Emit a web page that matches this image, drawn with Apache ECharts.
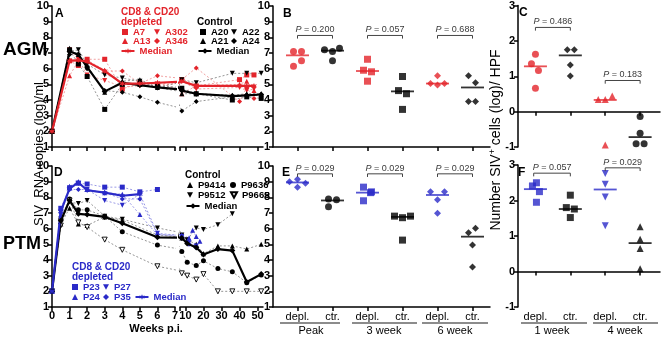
<!DOCTYPE html>
<html>
<head>
<meta charset="utf-8">
<script src="https://cdn.jsdelivr.net/npm/echarts@6/dist/echarts.min.js"></script>
<style>
  html, body { margin: 0; padding: 0; background: #fff; }
  #chart { width: 662px; height: 338px; }
</style>
</head>
<body>
<div id="chart"></div>
<script>
// ---------- data ----------
// A: AGM plasma viral load, log copies/ml
const agmDeplWeeks = [0, 1, 1.5, 2, 3, 4, 5, 6, 8, 16, 40, 44, 48];
const agmA7   = [2, 6.5, 6.2, 6.6, 6.6, 4.7, 5.1, 5.0, 5.3, 4.9, 5.3, 5.6, 5.6];
const agmA13  = [2, 5.55, 6.5, 6.55, 5.9, 5.0, 5.0, 5.1, 4.4, 4.9, 5.0, 5.2, 4.6];
const agmA302 = [2, 7.2, 6.6, 5.6, 5.25, 4.85, 4.9, 4.9, 5.2, 4.7, 4.8, 4.6, 4.7];
const agmA346 = [2, 6.5, 6.5, 6.4, 5.85, 5.85, 5.05, 5.55, 5.3, 6.05, 3.9, 4.8, 4.1];
const agmDeplMedian = [2, 6.5, 6.55, 6.45, 5.85, 5.05, 5.05, 5.1, 5.2, 4.9, 4.9, 4.9, 4.9];

const agmCtrWeeks = [0, 1, 1.5, 2, 3, 4, 5, 6, 8, 16, 36, 44, 52];
const agmA20 = [2, 7.2, 6.3, 5.5, 3.4, 5.0, 5.0, 4.9, 4.75, 4.4, 4.0, 4.2, 4.1];
const agmA21 = [2, 7.3, 6.9, 6.2, 4.5, 5.2, 5.3, 4.8, 4.4, 4.4, 4.3, 4.4, 4.4];
const agmA22 = [2, 7.1, 7.2, 6.3, 5.6, 5.4, 5.2, 4.8, 5.3, 5.1, 5.7, 5.7, 5.7];
const agmA24 = [2, 6.9, 6.9, 6.0, 4.6, 4.5, 4.2, 3.85, 3.3, 3.9, 4.2, 4.3, 4.3];
const agmCtrMedian = [2, 7.1, 6.9, 6.1, 4.55, 5.1, 4.95, 4.8, 4.6, 4.4, 4.25, 4.3, 4.35];

// D: PTM plasma viral load
const ptmDeplWeeks = [0, 0.5, 1, 1.5, 2, 3, 4, 5, 6, 8, 12, 14, 16, 18];
const ptmP23 = [2, 7.3, 8.6, 8.9, 8.85, 8.65, 8.65, 8.35, 8.5, null, null, null, null, null];
const ptmP27 = [2, 7.1, 8.6, 8.9, 8.5, 7.8, 7.5, 8.2, 5.7, 5.5, 5.1, null, 4.9, null];
const ptmP24 = [2, 6.9, 8.7, 9.0, 8.5, 8.3, 8.2, 6.9, 5.6, 5.6, 5.4, 5.9, 5.5, 5.2];
const ptmP35 = [2, 7.0, 8.5, 8.5, 8.5, 8.3, 7.9, 7.9, 5.65, 5.4, 5.0, null, 4.8, null];
const ptmDeplMedian = [2, 7.1, 8.55, 8.95, 8.45, 8.3, 8.1, 8.2, null, null, null, null, null, null];

const ptmCtrWeeks = [0, 0.5, 1, 1.5, 2, 3, 4, 6, 8, 11, 16, 20, 28, 36, 44, 52];
const ptmP9414 = [2, 6.3, 7.3, 6.3, 6.2, 6.75, 6.55, 5.6, 5.4, 5.3, 5.0, 4.4, 4.9, 4.9, 4.7, 5.0];
const ptmP9512 = [2, 6.6, 7.7, 7.6, 7.8, 6.8, 6.6, 6.05, 5.6, 5.3, 6.05, 5.95, 6.25, 6.95, null, null];
const ptmP9636 = [2, 6.6, 7.9, 7.2, 7.2, 6.8, 5.8, 4.95, 4.55, 3.85, 3.65, 3.95, 3.45, 3.25, 2.55, 3.05];
const ptmP9665 = [2, 6.2, 7.8, 6.4, 6.1, 5.3, 4.65, 3.6, 3.15, 3.0, 2.75, 3.1, 2.0, 2.0, 2.0, 2.0];
const ptmCtrMedian = [2, 6.5, 7.8, 6.95, 6.9, 6.75, 6.35, 5.45, 5.4, 5.05, 4.8, 4.35, 4.7, 4.6, 2.6, 3.1];

// B / E: viral load at peak, 3 and 6 weeks
const groupLabels = ['depl.', 'ctr.', 'depl.', 'ctr.', 'depl.', 'ctr.'];
const agmPeakDepl = [7.1, 7.1, 6.5, 6.15];
const agmPeakCtr  = [7.2, 7.1, 7.3, 6.5];
const agm3wDepl   = [6.6, 5.9, 5.8, 5.2];
const agm3wCtr    = [5.5, 4.6, 4.4, 3.4];
const agm6wDepl   = [5.55, 5.05, 4.95, 5.05];
const agm6wCtr    = [5.55, 5.1, 3.9, 3.9];
const agmMedians  = [6.85, 7.15, 5.85, 4.55, 5.05, 4.8];
const agmP = ['0.200', '0.057', '0.688'];

const ptmPeakDepl = [9.0, 9.15, 8.9, 8.65];
const ptmPeakCtr  = [7.9, 7.85, 7.4];
const ptm3wDepl   = [8.65, 8.35, 7.78, 8.3];
const ptm3wCtr    = [6.8, 6.7, 6.8, 5.27];
const ptm6wDepl   = [8.35, 8.35, 7.85, 6.98];
const ptm6wCtr    = [5.74, 6.02, 4.95, 3.56];
const ptmMedians  = [8.95, 7.8, 8.3, 6.75, 8.15, 5.49];
const ptmP = ['0.029', '0.029', '0.029'];

// C / F: SIV+ cells (log) per HPF, 1 and 4 weeks
const cellLabels = ['depl.', 'ctr.', 'depl.', 'ctr.'];
const agmCells1wDepl = [1.62, 1.35, 1.16, 0.66];
const agmCells1wCtr  = [1.75, 1.75, 1.32, 1.01];
const agmCells4wDepl = [0.34, 0.34, 0.44, -0.94];
const agmCells4wCtr  = [-0.14, -0.61, -0.91, -0.91];
const agmCellMedians = [1.28, 1.59, 0.33, -0.72];
const agmCellP = ['0.486', '0.183'];

const ptmCells1wDepl = [2.41, 2.5, 2.25, 1.95];
const ptmCells1wCtr  = [2.15, 1.8, 1.76, 1.52];
const ptmCells4wDepl = [2.76, 2.46, 2.1, 1.29];
const ptmCells4wCtr  = [1.26, 0.91, 0.65, 0.08];
const ptmCellMedians = [2.32, 1.76, 2.31, 0.8];
const ptmCellP = ['0.057', '0.029'];

// ---------- style ----------
const FONT = 'Liberation Sans';
const RED = '#e3242b', RED_LINE = '#ee8a8a';
const BLUE = '#2a2ac8', BLUE_LINE = '#8080e0';
const BLACK = '#000', GREY_LINE = '#7a7a7a';
const DOWN = 'path://M0,0L10,0L5,9Z';
const STAR = 'path://M5,0L6.2,3.2L9.3,2.2L7.4,5L9.3,7.8L6.2,6.8L5,10L3.8,6.8L0.7,7.8L2.6,5L0.7,2.2L3.8,3.2Z';

const chart = echarts.init(document.getElementById('chart'));

const grid = [
  { left: 52, top: 6, width: 123, height: 141 },   // A weeks 0-7
  { left: 180, top: 6, width: 83, height: 141 },   // A weeks 7-53
  { left: 52, top: 166, width: 123, height: 141 }, // D weeks 0-7
  { left: 180, top: 166, width: 83, height: 141 }, // D weeks 7-53
  { left: 273, top: 6, width: 217, height: 141 },  // B
  { left: 518, top: 5, width: 142, height: 142 },  // C
  { left: 273, top: 166, width: 217, height: 141 },// E
  { left: 518, top: 165, width: 142, height: 142 } // F
];

const axLine = { lineStyle: { color: BLACK, width: 1.5 } };
const axTick = { length: 4, lineStyle: { color: BLACK, width: 1.5 } };
const axLab = { color: BLACK, fontSize: 11, fontWeight: 'bold', fontFamily: FONT, margin: 3 };

function xAx(gi, min, max, ticks, showLabels, labels) {
  const o = {
    type: 'value', gridIndex: gi, min, max, splitLine: { show: false },
    axisLine: axLine,
    axisTick: Object.assign({ customValues: ticks }, axTick),
    axisLabel: Object.assign({ show: showLabels, customValues: ticks.filter(t => t >= (labels === 'weeks2' ? 10 : -99)) }, axLab)
  };
  if (Array.isArray(labels)) {
    o.axisLabel.formatter = v => labels[Math.round(v) - 1] || '';
    o.axisLabel.fontWeight = 'normal';
    o.axisLabel.margin = 4;
  }
  return o;
}
function yAx(gi, min, max, show) {
  return {
    type: 'value', gridIndex: gi, min, max, interval: 1, show,
    splitLine: { show: false }, axisLine: axLine, axisTick: axTick, axisLabel: axLab
  };
}

const xAxis = [
  xAx(0, 0, 7, [0, 1, 2, 3, 4, 5, 6, 7], false),
  xAx(1, 7, 53, [7, 10, 20, 30, 40, 50], false, 'weeks2'),
  xAx(2, 0, 7, [0, 1, 2, 3, 4, 5, 6, 7], true),
  xAx(3, 7, 53, [7, 10, 20, 30, 40, 50], true, 'weeks2'),
  xAx(4, 0.3, 6.5, [1, 2, 3, 4, 5, 6], false),
  xAx(5, 0.5, 4.57, [1, 2, 3, 4], false),
  xAx(6, 0.3, 6.5, [1, 2, 3, 4, 5, 6], true, groupLabels),
  xAx(7, 0.5, 4.57, [1, 2, 3, 4], true, cellLabels)
];
const yAxis = [
  yAx(0, 1, 10, true), yAx(1, 1, 10, false),
  yAx(2, 1, 10, true), yAx(3, 1, 10, false),
  yAx(4, 1, 10, true), yAx(5, -1, 3, true),
  yAx(6, 1, 10, true), yAx(7, -1, 3, true)
];

// time course drawn into both halves of the broken axis
function course(name, gi, weeks, vals, color, lineColor, symbol, isMedian, hollow) {
  const data = weeks.map((w, i) => [w, vals[i]]).filter(d => d[1] != null);
  return [gi, gi + 1].map(g => ({
    name, type: 'line', xAxisIndex: g, yAxisIndex: g, data, clip: true, connectNulls: true,
    symbol, symbolSize: isMedian ? 6 : 5,
    itemStyle: hollow ? { color: '#fff', borderColor: color, borderWidth: 0.9 } : { color },
    lineStyle: isMedian ? { color, width: 2.2 } : { color: lineColor, width: 0.8, type: [2, 2] },
    z: isMedian ? 5 : 3, silent: true
  }));
}

function dots(gi, pos, vals, jitter, symbol, color) {
  return {
    type: 'scatter', xAxisIndex: gi, yAxisIndex: gi, symbol, symbolSize: 7, silent: true,
    itemStyle: { color },
    data: vals.map((v, i) => ({ value: [pos, v], symbolOffset: [jitter[i] || 0, 0] }))
  };
}
function medianBars(gi, vals, colors) {
  return {
    type: 'scatter', xAxisIndex: gi, yAxisIndex: gi, symbol: 'rect', symbolSize: [23, 1.8], silent: true, z: 4,
    data: vals.map((v, i) => ({ value: [i + 1, v], itemStyle: { color: colors[i % colors.length] } }))
  };
}
function bracket(gi, x1, x2, y, drop, p) {
  return [{
    type: 'line', xAxisIndex: gi, yAxisIndex: gi, symbol: 'none', silent: true, clip: false,
    lineStyle: { color: '#444', width: 1 },
    data: [[x1, y - drop], [x1, y], [x2, y], [x2, y - drop]]
  }, {
    type: 'scatter', xAxisIndex: gi, yAxisIndex: gi, symbolSize: 0, silent: true, clip: false,
    data: [[(x1 + x2) / 2, y]],
    label: {
      show: true, position: 'top', distance: 1, color: BLACK, fontSize: 9, fontFamily: FONT,
      formatter: '{i|P} = ' + p, rich: { i: { fontStyle: 'italic', fontSize: 9, fontFamily: FONT } }
    }
  }];
}

const series = [].concat(
  course('A7', 0, agmDeplWeeks, agmA7, RED, RED_LINE, 'rect'),
  course('A13', 0, agmDeplWeeks, agmA13, RED, RED_LINE, 'triangle'),
  course('A302', 0, agmDeplWeeks, agmA302, RED, RED_LINE, DOWN),
  course('A346', 0, agmDeplWeeks, agmA346, RED, RED_LINE, 'diamond'),
  course('A20', 0, agmCtrWeeks, agmA20, BLACK, GREY_LINE, 'rect'),
  course('A21', 0, agmCtrWeeks, agmA21, BLACK, GREY_LINE, 'triangle'),
  course('A22', 0, agmCtrWeeks, agmA22, BLACK, GREY_LINE, DOWN),
  course('A24', 0, agmCtrWeeks, agmA24, BLACK, GREY_LINE, 'diamond'),
  course('agmCtrMedian', 0, agmCtrWeeks, agmCtrMedian, BLACK, BLACK, 'diamond', true),
  course('agmDeplMedian', 0, agmDeplWeeks, agmDeplMedian, RED, RED, STAR, true),

  course('P9414', 2, ptmCtrWeeks, ptmP9414, BLACK, GREY_LINE, 'triangle'),
  course('P9512', 2, ptmCtrWeeks, ptmP9512, BLACK, GREY_LINE, DOWN),
  course('P9636', 2, ptmCtrWeeks, ptmP9636, BLACK, GREY_LINE, 'circle'),
  course('P9665', 2, ptmCtrWeeks, ptmP9665, BLACK, GREY_LINE, DOWN, false, true),
  course('P23', 2, ptmDeplWeeks, ptmP23, BLUE, BLUE_LINE, 'rect'),
  course('P27', 2, ptmDeplWeeks, ptmP27, BLUE, BLUE_LINE, DOWN),
  course('P24', 2, ptmDeplWeeks, ptmP24, BLUE, BLUE_LINE, 'triangle'),
  course('P35', 2, ptmDeplWeeks, ptmP35, BLUE, BLUE_LINE, 'diamond'),
  course('ptmCtrMedian', 2, ptmCtrWeeks, ptmCtrMedian, BLACK, BLACK, 'diamond', true),
  course('ptmDeplMedian', 2, ptmDeplWeeks, ptmDeplMedian, BLUE, BLUE, STAR, true),

  // B
  dots(4, 1, agmPeakDepl, [-4, 4, 4, -4], 'circle', RED),
  dots(4, 2, agmPeakCtr, [-8, 0, 7, 0], 'circle', BLACK),
  dots(4, 3, agm3wDepl, [0, -4, 4, 0], 'rect', RED),
  dots(4, 4, agm3wCtr, [0, -4, 4, 0], 'rect', BLACK),
  dots(4, 5, agm6wDepl, [0, -7, 0, 7], 'diamond', RED),
  dots(4, 6, agm6wCtr, [-4, 3, -4, 3], 'diamond', BLACK),
  medianBars(4, agmMedians, [RED, BLACK]),
  bracket(4, 1, 2, 8.12, 0.2, agmP[0]),
  bracket(4, 3, 4, 8.12, 0.2, agmP[1]),
  bracket(4, 5, 6, 8.12, 0.2, agmP[2]),
  // C
  dots(5, 1, agmCells1wDepl, [0, -4, 3, 0], 'circle', RED),
  dots(5, 2, agmCells1wCtr, [-3, 4, 0, 0], 'diamond', BLACK),
  dots(5, 3, agmCells4wDepl, [-7, 0, 7, 0], 'triangle', RED),
  dots(5, 4, agmCells4wCtr, [0, 0, -4, 4], 'circle', BLACK),
  medianBars(5, agmCellMedians, [RED, BLACK]),
  bracket(5, 1, 2, 2.38, 0.09, agmCellP[0]),
  bracket(5, 3, 4, 0.88, 0.09, agmCellP[1]),
  // E
  dots(6, 1, ptmPeakDepl, [-8, 0, 8, 0], 'diamond', BLUE),
  dots(6, 2, ptmPeakCtr, [-4, 4, -4], 'circle', BLACK),
  dots(6, 3, ptm3wDepl, [-4, 4, -4, 3], 'rect', BLUE),
  dots(6, 4, ptm3wCtr, [-8, 0, 8, 0], 'rect', BLACK),
  dots(6, 5, ptm6wDepl, [-7, 7, 0, 0], 'diamond', BLUE),
  dots(6, 6, ptm6wCtr, [-4, 3, 0, 0], 'diamond', BLACK),
  medianBars(6, ptmMedians, [BLUE, BLACK]),
  bracket(6, 1, 2, 9.5, 0.2, ptmP[0]),
  bracket(6, 3, 4, 9.5, 0.2, ptmP[1]),
  bracket(6, 5, 6, 9.5, 0.2, ptmP[2]),
  // F
  dots(7, 1, ptmCells1wDepl, [-3, 1, 4, 1], 'rect', BLUE),
  dots(7, 2, ptmCells1wCtr, [0, -4, 4, 0], 'rect', BLACK),
  dots(7, 3, ptmCells4wDepl, [0, 0, 0, 0], DOWN, BLUE),
  dots(7, 4, ptmCells4wCtr, [0, 0, 0, 0], 'triangle', BLACK),
  medianBars(7, ptmCellMedians, [BLUE, BLACK]),
  bracket(7, 0.95, 2, 2.77, 0.09, ptmCellP[0]),
  bracket(7, 3, 4, 2.92, 0.09, ptmCellP[1])
);

// one legend component per entry so they can sit exactly like the figure
function leg(name, cx, cy, color, icon) {
  const w = icon ? 6 : 13, h = icon ? 6 : 7;
  const o = {
    data: [icon ? { name, icon } : { name }], left: cx - w / 2, top: cy - 5, padding: 0,
    itemWidth: w, itemHeight: h, selectedMode: false,
    textStyle: { color, fontSize: 9.5, fontWeight: 'bold', fontFamily: FONT, lineHeight: 10 }
  };
  if (!icon) o.formatter = 'Median';
  return o;
}
const legend = [
  leg('A7', 125, 32, RED, 'rect'), leg('A302', 157, 32, RED, DOWN),
  leg('A13', 125, 41, RED, 'triangle'), leg('A346', 157, 41, RED, 'diamond'),
  leg('agmDeplMedian', 127, 51, RED),
  leg('A20', 203, 32, BLACK, 'rect'), leg('A22', 234, 32, BLACK, DOWN),
  leg('A21', 203, 41, BLACK, 'triangle'), leg('A24', 234, 41, BLACK, 'diamond'),
  leg('agmCtrMedian', 204, 51, BLACK),
  leg('P9414', 190, 185, BLACK, 'triangle'), leg('P9636', 233, 185, BLACK, 'circle'),
  leg('P9512', 190, 195, BLACK, DOWN), leg('P9665', 233, 195, BLACK, DOWN),
  leg('ptmCtrMedian', 192, 206, BLACK),
  leg('P23', 75, 287, BLUE, 'rect'), leg('P27', 106, 287, BLUE, DOWN),
  leg('P24', 75, 297, BLUE, 'triangle'), leg('P35', 106, 297, BLUE, 'diamond'),
  leg('ptmDeplMedian', 141, 297, BLUE)
];

function txt(text, x, y, size, weight, color, align) {
  return {
    type: 'text', x, y, silent: true,
    style: { text, fontSize: size, fontWeight: weight, fontFamily: FONT, fill: color, align: align || 'left', verticalAlign: 'middle' }
  };
}
function bar(x1, x2, y) {
  return { type: 'rect', silent: true, shape: { x: x1, y: y - 1, width: x2 - x1, height: 2 }, style: { fill: '#8c8c8c' } };
}

const graphic = [
  txt('AGM', 3, 50, 19, 'bold', BLACK),
  txt('PTM', 3, 244, 18, 'bold', BLACK),
  txt('A', 55, 14, 12, 'bold', BLACK), txt('B', 283, 14, 12, 'bold', BLACK), txt('C', 519, 13, 12, 'bold', BLACK),
  txt('D', 54, 173, 12, 'bold', BLACK), txt('E', 282, 173, 12, 'bold', BLACK), txt('F', 518, 173, 12, 'bold', BLACK),
  txt('CD8 & CD20', 121, 12, 10, 'bold', RED), txt('depleted', 121, 22, 10, 'bold', RED),
  txt('Control', 197, 22, 10, 'bold', BLACK),
  txt('Control', 185, 175, 10, 'bold', BLACK),
  txt('CD8 & CD20', 72, 267, 10, 'bold', BLUE), txt('depleted', 72, 277, 10, 'bold', BLUE),
  txt('Weeks p.i.', 156, 329, 11, 'bold', BLACK, 'center'),
  {
    type: 'text', x: 39, y: 154, rotation: Math.PI / 2, silent: true,
    style: { text: 'SIV  RNA copies (log)/ml', fontSize: 13, fontFamily: FONT, fill: BLACK, align: 'center', verticalAlign: 'middle' }
  },
  {
    type: 'text', x: 496, y: 140, rotation: Math.PI / 2, silent: true,
    style: {
      text: 'Number SIV{s|+} cells (log)/ HPF', fontSize: 14, fontFamily: FONT, fill: BLACK, align: 'center', verticalAlign: 'middle',
      rich: { s: { fontSize: 9, fontFamily: FONT, fill: BLACK, padding: [0, 0, 7, 0] } }
    }
  },
  txt('Peak', 311, 331, 11, 'normal', BLACK, 'center'),
  txt('3 week', 384, 331, 11, 'normal', BLACK, 'center'),
  txt('6 week', 455, 331, 11, 'normal', BLACK, 'center'),
  txt('1 week', 552, 331, 11, 'normal', BLACK, 'center'),
  txt('4 week', 625, 331, 11, 'normal', BLACK, 'center'),
  bar(280, 340, 323), bar(352, 417, 323), bar(422, 488, 323),
  bar(521, 587, 323), bar(593, 658, 323)
];

chart.setOption({
  animation: false,
  textStyle: { fontFamily: FONT },
  grid, xAxis, yAxis, legend, graphic, series
});
</script>
</body>
</html>
